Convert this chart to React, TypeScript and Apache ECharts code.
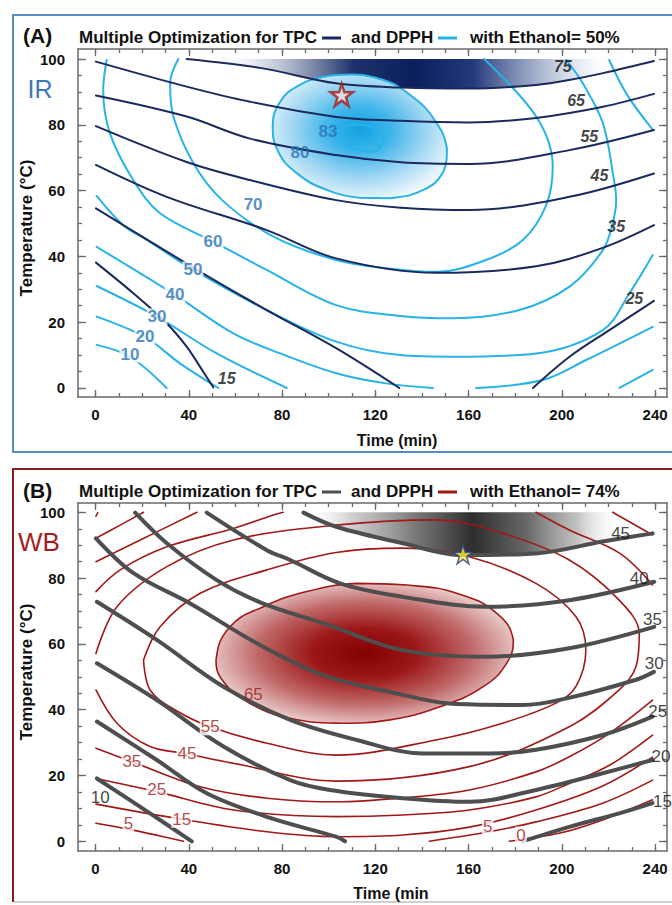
import React, { useEffect, useRef } from "react";
import * as echarts from "echarts";

// ---------- ticks ----------
const xMajor = [0, 40, 80, 120, 160, 200, 240];
const xMinor = [0, 10, 20, 30, 40, 50, 60, 70, 80, 90, 100, 110, 120, 130, 140, 150, 160, 170, 180, 190, 200, 210, 220, 230, 240];
const yMajor = [0, 20, 40, 60, 80, 100];
const yMinor = [0, 5, 10, 15, 20, 25, 30, 35, 40, 45, 50, 55, 60, 65, 70, 75, 80, 85, 90, 95, 100];

// ---------- Panel A: TPC contours (navy) ----------
const tpcA75 = [[39.1, 100], [70.6, 97.3], [103.2, 92.6], [131.9, 91.3], [160.2, 91.0], [189, 92.1], [203.1, 93.6], [217.7, 95.7], [239.5, 99.4]];
const tpcA65 = [[0.2, 99.2], [39.1, 91.6], [66.3, 87.0], [103.2, 82.4], [131, 81.2], [160.2, 80.7], [189, 82.1], [217.7, 85.5], [239.5, 89.4]];
const tpcA55 = [[0.2, 88.9], [39.1, 82.5], [66.3, 75.8], [103.2, 70.8], [131, 68.6], [160.4, 68.1], [203.3, 72.3], [239.5, 78.4]];
const tpcA45 = [[0.2, 79.6], [39.1, 68.7], [66.3, 63.2], [103.2, 57.1], [131, 54.8], [160.4, 54.1], [203.3, 58.1], [239.5, 65.2]];
const tpcA35 = [[0.2, 67.8], [30.5, 58.1], [73.4, 48], [103.2, 39.4], [146.1, 35], [189, 37], [217.5, 42.6], [239.5, 49.5]];
const tpcA25a = [[0.2, 54.6], [44.8, 35.4], [73.4, 23.7], [103.2, 12.1], [130.3, 0]];
const tpcA25b = [[187.6, 0], [203.3, 9.5], [220.4, 17.6], [239.5, 26.5]];
const tpcA15 = [[0.2, 38.1], [16.2, 28.8], [30.5, 19.7], [39.1, 12.6], [44.8, 6.5], [50.5, 0.2]];

// ---------- Panel A: DPPH contours (cyan) ----------
const dpA83 = [[104.6, 77.9], [109.2, 80.2], [117.8, 79.4], [123.5, 75.4], [119.2, 71.8], [110.6, 72.9], [105.6, 75.4], [104.6, 77.9]];
const dpA80 = [[76.0, 79.9], [79.2, 87.0], [86.3, 91.6], [97.7, 94.6], [109.2, 95.3], [123.5, 93.6], [134.9, 89.1], [144.9, 82.0], [150.7, 72.9], [149.2, 65.7], [140.6, 60.2], [126.3, 57.7], [113.5, 57.8], [99.2, 60.2], [86.3, 65.3], [78.4, 71.8]];
const dpA70 = [[35.5, 100], [32.0, 92.6], [33.4, 82.5], [42.0, 68.3], [54.3, 57.1], [76.3, 46.0], [103.2, 38.9], [124.6, 36.4], [146.1, 35.3], [167.5, 38.9], [183.3, 45.0], [193.3, 55.6], [196.1, 67.3], [189.0, 82.5], [166.7, 100]];
const dpA60 = [[4.8, 99.7], [3.3, 90.7], [6.2, 77.4], [16.2, 63.2], [27.7, 53.1], [50.5, 44.5], [73.4, 35.9], [103.2, 25.2], [130.6, 21.9], [153.2, 21.2], [181.8, 23.7], [203.3, 30.8], [217.6, 41.9], [221.6, 49.5], [223.3, 57.1], [222.0, 64.7], [217.6, 80.5], [209.0, 92.6], [201.8, 99.7]];
const dpA50a = [[0.5, 58.4], [11.9, 49.5], [22.0, 45.0], [42.0, 35.9], [73.4, 23.7], [103.2, 14.1], [130.6, 10.0], [153.2, 9.5], [189.0, 10.5], [217.6, 17.6], [229.0, 28.8], [239.0, 40.4]];
const dpA50b = [[220.3, 99.7], [228.0, 89.1], [239.1, 78.4]];
const dpA40a = [[0.5, 42.9], [34.1, 28.3], [59.1, 16.6], [79.2, 10.5], [103.2, 4.5], [124.6, 1.4], [144.7, 0]];
const dpA40b = [[163.2, 0], [191.8, 2.4], [210.4, 8.5], [239.0, 18.6]];
const dpA30a = [[0.5, 31.0], [26.3, 21.7], [52.0, 10.5], [82.0, 0]];
const dpA30b = [[224.7, 0], [239.0, 5.5]];
const dpA20 = [[0.5, 21.7], [21.2, 15.5], [36.2, 7.5], [52.7, 0]];
const dpA10 = [[0.5, 13.1], [14.8, 9.5], [30.5, 0]];

const tpcLabelsA = [[200.4, 97.7, "75"], [206.1, 87.5, "65"], [211.8, 76.4, "55"], [216.1, 64.7, "45"], [223.3, 49.0, "35"], [231.1, 27.1, "25"], [56.3, 2.9, "15"]];
const dpLabelsAInner = [[99.7, 77.9, "83"], [87.7, 71.7, "80"]];
const dpLabelsAOuter = [[67.6, 55.9, "70"], [50.4, 44.4, "60"], [41.8, 35.9, "50"], [34.1, 28.3, "40"], [26.4, 21.6, "30"], [21.2, 15.8, "20"], [14.8, 10.3, "10"]];
const optimumA = [[105.6, 89.1]];

// ---------- Panel B: TPC contours (gray) ----------
const tpcB45 = [[89.2, 99.9], [103.2, 95.6], [131.8, 90.6], [157.5, 87.0], [188.9, 87.5], [217.5, 91.1], [238.9, 93.6]];
const tpcB40 = [[47.7, 99.9], [73.5, 88.5], [83.5, 85.5], [104.9, 78.4], [131.8, 74.3], [167.5, 71.3], [203.2, 73.3], [239.6, 78.9]];
const tpcB35 = [[17.0, 99.9], [30.6, 90.6], [52.0, 79.4], [71.4, 72.4], [97.7, 66.3], [131.8, 58.1], [167.5, 56.1], [203.2, 58.7], [239.6, 65.2]];
const tpcB30 = [[0.2, 92.1], [16.3, 81.5], [40.6, 72.3], [69.2, 60.2], [97.6, 50.5], [126.3, 45.4], [154.9, 41.7], [183.3, 41.4], [203.0, 43.6], [231.8, 49.1], [239.5, 51.5]];
const tpcB25 = [[0.6, 72.8], [26.3, 61.2], [54.9, 47.0], [83.5, 36.9], [112.0, 30.8], [140.6, 26.7], [169.2, 26.7], [188.9, 27.8], [217.5, 32.3], [238.9, 37.9]];
const tpcB20 = [[0.6, 54.1], [26.3, 42.9], [54.9, 28.8], [83.5, 18.6], [100.6, 15.6], [131.8, 13.1], [160.3, 12.0], [188.9, 15.6], [217.5, 20.7], [238.9, 24.7]];
const tpcB15a = [[0.6, 36.4], [26.3, 24.7], [47.7, 14.6], [74.9, 7.1], [103.2, 1.4], [107.0, 0]];
const tpcB15b = [[183.2, 0], [203.2, 4.4], [224.6, 8.5], [238.9, 11.6]];
const tpcB10 = [[0.6, 19.1], [23.4, 8.5], [41.3, 0]];

// ---------- Panel B: DPPH contours (dark red) ----------
const dpB65 = [[51.7, 55.1], [57.7, 65.2], [72.0, 71.3], [90.6, 75.9], [112.0, 78.4], [133.5, 77.9], [154.9, 75.4], [172.1, 69.3], [179.2, 61.2], [176.3, 54.1], [166.3, 47.0], [147.7, 40.9], [126.3, 36.9], [104.9, 35.9], [83.5, 37.4], [66.3, 41.9], [54.9, 48.5]];
const dpB55 = [[20.6, 55.1], [27.7, 65.2], [44.9, 75.4], [73.5, 82.5], [103.2, 87.8], [131.8, 89.1], [160.3, 86.5], [188.9, 78.4], [206.0, 68.3], [210.3, 58.1], [206.0, 47.0], [197.5, 42.0], [174.6, 35.9], [146.0, 30.8], [103.2, 26.2], [73.5, 29.8], [49.2, 34.8], [34.2, 39.9], [23.4, 46.0], [20.6, 55.1]];
const dpB45 = [[0.2, 57.1], [9.2, 71.3], [30.6, 83.5], [59.2, 91.6], [103.2, 96.1], [146.0, 97.7], [174.6, 93.6], [203.2, 85.5], [224.6, 73.3], [233.2, 63.2], [231.8, 53.1], [224.6, 46.0], [203.2, 34.8], [160.3, 22.7], [103.2, 18.3], [59.2, 23.7], [38.4, 26.7], [23.4, 28.8], [9.2, 35.9], [0.2, 46.0]];
const dpB35a = [[0.2, 75.9], [10.6, 82.5], [30.6, 89.5], [59.2, 95.1], [76.3, 99.2], [80.5, 100]];
const dpB35b = [[188.9, 100], [203.2, 94.6], [224.9, 87.5], [238.9, 77.9]];
const dpB35c = [[0.2, 28.3], [15.6, 24.2], [44.9, 16.6], [73.5, 13.1], [103.2, 12.0], [131.8, 13.2], [160.3, 15.6], [188.9, 21.1], [203.2, 25.7], [220.6, 32.9], [238.9, 42.9]];
const dpB25a = [[0.2, 85.0], [19.2, 91.6], [43.5, 100]];
const dpB25b = [[221.8, 100], [238.9, 93.1]];
const dpB25c = [[0.2, 19.1], [26.3, 15.1], [59.2, 9.5], [103.2, 7.5], [131.8, 8.0], [160.3, 9.5], [188.9, 13.5], [203.2, 17.6], [220.6, 23.2], [238.9, 32.3]];
const dpB15a = [[0.2, 92.1], [10.6, 96.1], [20.6, 100]];
const dpB15b = [[0.2, 11.3], [37.0, 6.7], [73.5, 2.9], [103.2, 1.4], [131.8, 1.9], [160.3, 4.3], [188.9, 9.5], [217.5, 16.8], [238.9, 25.6]];
const dpB5a = [[0.2, 98.8], [1.0, 99.9]];
const dpB5b = [[0.2, 5.5], [14.1, 3.7], [27.7, 1.6], [37.7, 0]];
const dpB5c = [[143.2, 0], [168.2, 2.8], [188.9, 5.9], [217.5, 11.6], [238.9, 18.6]];
const dpB0 = [[177.5, 0], [199.2, 2.5], [217.5, 6.5], [238.9, 12.6]];

const tpcLabelsB = [[225.2, 93.6, "45"], [233.2, 79.9, "40"], [238.9, 67.5, "35"], [239.6, 53.9, "30"], [241.1, 39.4, "25"], [242.5, 25.7, "20"], [243.2, 12.0, "15"], [2.0, 13.4, "10"]];
const dpLabelsBInner = [[67.7, 44.5, "65"]];
const dpLabelsBOuter = [[49.2, 34.8, "55"], [39.2, 26.7, "45"], [15.6, 24.2, "35"], [26.3, 15.6, "25"], [37.0, 6.7, "15"], [14.1, 5.5, "5"], [168.2, 4.4, "5"], [182.5, 1.9, "0"]];
const optimumB = [[157.6, 87.2]];

// ---------- styling constants ----------
const FONT = '"Liberation Sans", Arial, Helvetica, sans-serif';
const AX = "#6a6a6a";
const NAVY = "#1b2a5c";
const CYAN = "#27b3e7";
const GRAY = "#4e4e4e";
const RED = "#a11818";
const STAR = "path://M50 0 L61.8 35.1 L98.9 35.1 L68.9 56.8 L80.3 91.9 L50 70.2 L19.7 91.9 L31.1 56.8 L1.1 35.1 L38.2 35.1 Z";

const X_MIN = -7.5;
const X_MAX = 245.1;
const Y_RANGE = [
  [-2.74, 103.04],
  [-2.95, 102.83],
];

function xAxesFor(gi: number) {
  const base: any = { type: "value", gridIndex: gi, min: X_MIN, max: X_MAX, splitLine: { show: false } };
  const tick = (vals: number[], len: number) => ({ show: true, inside: true, length: len, customValues: vals, lineStyle: { color: AX, width: 1.3 } });
  return [
    {
      ...base, position: "bottom",
      axisLine: { show: true, onZero: false, lineStyle: { color: AX, width: 1.5 } },
      axisTick: tick(xMajor, 7),
      axisLabel: { show: true, customValues: xMajor, margin: 10, color: "#111", fontSize: 15, fontWeight: "bold", fontFamily: FONT },
    },
    { ...base, position: "bottom", axisLine: { show: false, onZero: false }, axisTick: tick(xMinor, 4), axisLabel: { show: false } },
    { ...base, position: "top", axisLine: { show: true, onZero: false, lineStyle: { color: AX, width: 1.5 } }, axisTick: tick(xMajor, 7), axisLabel: { show: false } },
    { ...base, position: "top", axisLine: { show: false, onZero: false }, axisTick: tick(xMinor, 4), axisLabel: { show: false } },
  ];
}

function yAxesFor(gi: number) {
  const base: any = { type: "value", gridIndex: gi, min: Y_RANGE[gi][0], max: Y_RANGE[gi][1], splitLine: { show: false } };
  const tick = (vals: number[], len: number) => ({ show: true, inside: true, length: len, customValues: vals, lineStyle: { color: AX, width: 1.3 } });
  return [
    {
      ...base, position: "left",
      axisLine: { show: true, onZero: false, lineStyle: { color: AX, width: 1.5 } },
      axisTick: tick(yMajor, 8),
      axisLabel: { show: true, customValues: yMajor, margin: 13, color: "#111", fontSize: 15, fontWeight: "bold", fontFamily: FONT },
    },
    { ...base, position: "left", axisLine: { show: false, onZero: false }, axisTick: tick(yMinor, 4), axisLabel: { show: false } },
    { ...base, position: "right", axisLine: { show: true, onZero: false, lineStyle: { color: AX, width: 1.5 } }, axisTick: tick(yMajor, 8), axisLabel: { show: false } },
    { ...base, position: "right", axisLine: { show: false, onZero: false }, axisTick: tick(yMinor, 4), axisLabel: { show: false } },
  ];
}

function line(gi: number, data: number[][], color: string, width: number, z = 3) {
  return {
    type: "line", xAxisIndex: gi * 4, yAxisIndex: gi * 4, data, smooth: 0.35,
    symbol: "none", showSymbol: false, silent: true, z,
    lineStyle: { color, width, cap: "round", join: "round" },
  };
}

function areaPoly(gi: number, pts: number[][], fillFn: (api: any) => any, stroke?: string, strokeW?: number, z = 1) {
  return {
    type: "custom", coordinateSystem: "cartesian2d", xAxisIndex: gi * 4, yAxisIndex: gi * 4,
    data: [pts[0]], silent: true, z,
    renderItem: (_params: any, api: any) => {
      const points = pts.map((p) => api.coord(p));
      let minX = Infinity, minY = Infinity, maxX = -Infinity, maxY = -Infinity;
      points.forEach((p: number[]) => {
        minX = Math.min(minX, p[0]); maxX = Math.max(maxX, p[0]);
        minY = Math.min(minY, p[1]); maxY = Math.max(maxY, p[1]);
      });
      return {
        type: "polygon",
        shape: { points, smooth: 0.45, smoothConstraint: [[minX, minY], [maxX, maxY]] },
        style: { fill: fillFn(api), stroke: stroke || "none", lineWidth: strokeW || 0 },
      };
    },
  };
}

function labels(gi: number, items: any[], style: any, z = 8) {
  return {
    type: "scatter", xAxisIndex: gi * 4, yAxisIndex: gi * 4, silent: true, z,
    symbolSize: 1, itemStyle: { color: "rgba(0,0,0,0)" },
    data: items.map((l) => ({ name: l[2], value: [l[0], l[1]] })),
    label: { show: true, position: "inside", formatter: "{b}", fontFamily: FONT, ...style },
  };
}

function star(gi: number, data: number[][], fill: string, border: string, size: number, bw: number) {
  return {
    type: "scatter", xAxisIndex: gi * 4, yAxisIndex: gi * 4, silent: true, z: 9,
    symbol: STAR, symbolSize: size, data,
    itemStyle: { color: fill, borderColor: border, borderWidth: bw },
  };
}

function buildOption() {
  const shadeA = [...tpcA75, [240, 100], [39.1, 100]];
  const shadeB = [...tpcB45, [240, 100], [89.2, 100]];

  const series: any[] = [
    // ---- panel A ----
    areaPoly(0, shadeA, (api) => {
      const xa = api.coord([50, 0])[0];
      const xb = api.coord([222, 0])[0];
      return {
        type: "linear", x: xa, y: 0, x2: xb, y2: 0, global: true,
        colorStops: [
          { offset: 0, color: "rgba(255,255,255,0)" },
          { offset: 0.15, color: "rgba(185,193,212,0.75)" },
          { offset: 0.35, color: "#1f326a" },
          { offset: 0.5, color: "#0a1f5c" },
          { offset: 0.65, color: "#22397a" },
          { offset: 0.8, color: "rgba(140,155,190,0.85)" },
          { offset: 0.93, color: "rgba(225,230,240,0.6)" },
          { offset: 1, color: "rgba(255,255,255,0)" },
        ],
      };
    }),
    areaPoly(0, dpA80, () => ({
      type: "radial", x: 0.5, y: 0.45, r: 0.58,
      colorStops: [
        { offset: 0, color: "#12a2e3" },
        { offset: 0.3, color: "#3ab4ea" },
        { offset: 0.65, color: "#9cd5f3" },
        { offset: 1, color: "#eef8fd" },
      ],
    }), CYAN, 2, 2),
    line(0, dpA83, CYAN, 2),
    line(0, dpA70, CYAN, 2),
    line(0, dpA60, CYAN, 2),
    line(0, dpA50a, CYAN, 2),
    line(0, dpA50b, CYAN, 2),
    line(0, dpA40a, CYAN, 2),
    line(0, dpA40b, CYAN, 2),
    line(0, dpA30a, CYAN, 2),
    line(0, dpA30b, CYAN, 2),
    line(0, dpA20, CYAN, 2),
    line(0, dpA10, CYAN, 2),
    line(0, tpcA75, NAVY, 2, 4),
    line(0, tpcA65, NAVY, 2, 4),
    line(0, tpcA55, NAVY, 2, 4),
    line(0, tpcA45, NAVY, 2, 4),
    line(0, tpcA35, NAVY, 2, 4),
    line(0, tpcA25a, NAVY, 2, 4),
    line(0, tpcA25b, NAVY, 2, 4),
    line(0, tpcA15, NAVY, 2, 4),
    star(0, optimumA, "#f7e4e4", "#a31d1d", 22, 2.5),
    labels(0, tpcLabelsA, { color: "#111", fontSize: 16, fontWeight: "bold", fontStyle: "italic" }),
    labels(0, dpLabelsAInner, { color: "#2a72b8", fontSize: 17, fontWeight: "bold" }),
    labels(0, dpLabelsAOuter, { color: "#2a72b8", fontSize: 17, fontWeight: "bold", backgroundColor: "#ffffff", padding: [0, 1] }),

    // ---- panel B ----
    areaPoly(1, shadeB, (api) => {
      const xa = api.coord([89, 0])[0];
      const xb = api.coord([226, 0])[0];
      return {
        type: "linear", x: xa, y: 0, x2: xb, y2: 0, global: true,
        colorStops: [
          { offset: 0, color: "rgba(255,255,255,0)" },
          { offset: 0.15, color: "rgba(200,200,200,0.85)" },
          { offset: 0.35, color: "#7a7a7a" },
          { offset: 0.53, color: "#2e2e2e" },
          { offset: 0.7, color: "#686868" },
          { offset: 0.86, color: "rgba(185,185,185,0.85)" },
          { offset: 1, color: "rgba(255,255,255,0)" },
        ],
      };
    }),
    areaPoly(1, dpB65, () => ({
      type: "radial", x: 0.5, y: 0.5, r: 0.6,
      colorStops: [
        { offset: 0, color: "#850000" },
        { offset: 0.3, color: "#9c1818" },
        { offset: 0.6, color: "#c06868" },
        { offset: 0.85, color: "#e6c2c2" },
        { offset: 1, color: "#fbf4f4" },
      ],
    }), RED, 1.6, 2),
    line(1, dpB55, RED, 1.6),
    line(1, dpB45, RED, 1.6),
    line(1, dpB35a, RED, 1.6),
    line(1, dpB35b, RED, 1.6),
    line(1, dpB35c, RED, 1.6),
    line(1, dpB25a, RED, 1.6),
    line(1, dpB25b, RED, 1.6),
    line(1, dpB25c, RED, 1.6),
    line(1, dpB15a, RED, 1.6),
    line(1, dpB15b, RED, 1.6),
    line(1, dpB5a, RED, 1.6),
    line(1, dpB5b, RED, 1.6),
    line(1, dpB5c, RED, 1.6),
    line(1, dpB0, RED, 1.6),
    line(1, tpcB45, GRAY, 4, 4),
    line(1, tpcB40, GRAY, 4, 4),
    line(1, tpcB35, GRAY, 4, 4),
    line(1, tpcB30, GRAY, 4, 4),
    line(1, tpcB25, GRAY, 4, 4),
    line(1, tpcB20, GRAY, 4, 4),
    line(1, tpcB15a, GRAY, 4, 4),
    line(1, tpcB15b, GRAY, 4, 4),
    line(1, tpcB10, GRAY, 4, 4),
    star(1, optimumB, "#f4ea3a", "#2b3f8f", 19, 1.5),
    labels(1, tpcLabelsB, { color: "#111", fontSize: 17 }),
    labels(1, dpLabelsBInner, { color: "#9b1c1c", fontSize: 17 }),
    labels(1, dpLabelsBOuter, { color: "#9b1c1c", fontSize: 17, backgroundColor: "#ffffff", padding: [0, 1] }),
  ];

  const txt = (x: number, y: number, text: string, size: number, color: string, weight = "bold", extra: any = {}) => ({
    type: "text", x, y, z: 20, ...extra,
    style: { text, fontSize: size, fontWeight: weight, fontFamily: FONT, fill: color, align: extra.align || "left", verticalAlign: "middle" },
  });
  const dash = (x1: number, x2: number, y: number, color: string) => ({
    type: "line", z: 20, shape: { x1, y1: y, x2, y2: y }, style: { stroke: color, lineWidth: 3 },
  });

  const graphic: any[] = [
    { type: "rect", z: 0, shape: { x: 13, y: 15, width: 700, height: 437 }, style: { fill: "none", stroke: "#5b8dc2", lineWidth: 2 } },
    { type: "polyline", z: 0, shape: { points: [[700, 469], [13, 469], [13, 902]] }, style: { fill: "none", stroke: "#8c1d1d", lineWidth: 2 } },
    { type: "line", z: 0, shape: { x1: 14, y1: 902, x2: 672, y2: 902 }, style: { stroke: "#d0d0d0", lineWidth: 2 } },
    // panel A header
    txt(23, 35, "(A)", 21, "#111"),
    txt(79, 37, "Multiple Optimization for TPC", 17, "#111"),
    dash(322, 341, 38, NAVY),
    txt(351, 37, "and DPPH", 17, "#111"),
    dash(438, 457, 38, CYAN),
    txt(470, 37, "with Ethanol= 50%", 17, "#111"),
    txt(40, 89, "IR", 25, "#3c79b8", "normal", { align: "center" }),
    txt(397, 440, "Time (min)", 16, "#111", "bold", { align: "center" }),
    txt(26, 228, "Temperature (°C)", 17, "#111", "bold", { align: "center", rotation: Math.PI / 2 }),
    // panel B header
    txt(23, 490, "(B)", 21, "#111"),
    txt(79, 491, "Multiple Optimization for TPC", 17, "#111"),
    dash(322, 341, 492, GRAY),
    txt(351, 491, "and DPPH", 17, "#111"),
    dash(438, 457, 492, RED),
    txt(470, 491, "with Ethanol= 74%", 17, "#111"),
    txt(39, 542, "WB", 26, "#a61d1d", "normal", { align: "center" }),
    txt(391, 893, "Time (min", 16, "#111", "bold", { align: "center" }),
    txt(26, 672, "Temperature (°C)", 17, "#111", "bold", { align: "center", rotation: Math.PI / 2 }),
  ];

  return {
    animation: false,
    backgroundColor: "#ffffff",
    grid: [
      { left: 78, top: 49, width: 589, height: 348, containLabel: false },
      { left: 78, top: 503, width: 589, height: 348, containLabel: false },
    ],
    xAxis: [...xAxesFor(0), ...xAxesFor(1)],
    yAxis: [...yAxesFor(0), ...yAxesFor(1)],
    series,
    graphic,
  };
}

export default function App() {
  const ref = useRef<HTMLDivElement>(null);
  useEffect(() => {
    document.body.style.margin = "0";
    const chart = echarts.init(ref.current as HTMLDivElement, undefined, { renderer: "svg" });
    chart.setOption(buildOption() as any);
    return () => chart.dispose();
  }, []);
  return <div ref={ref} style={{ width: 672, height: 905 }} />;
}
